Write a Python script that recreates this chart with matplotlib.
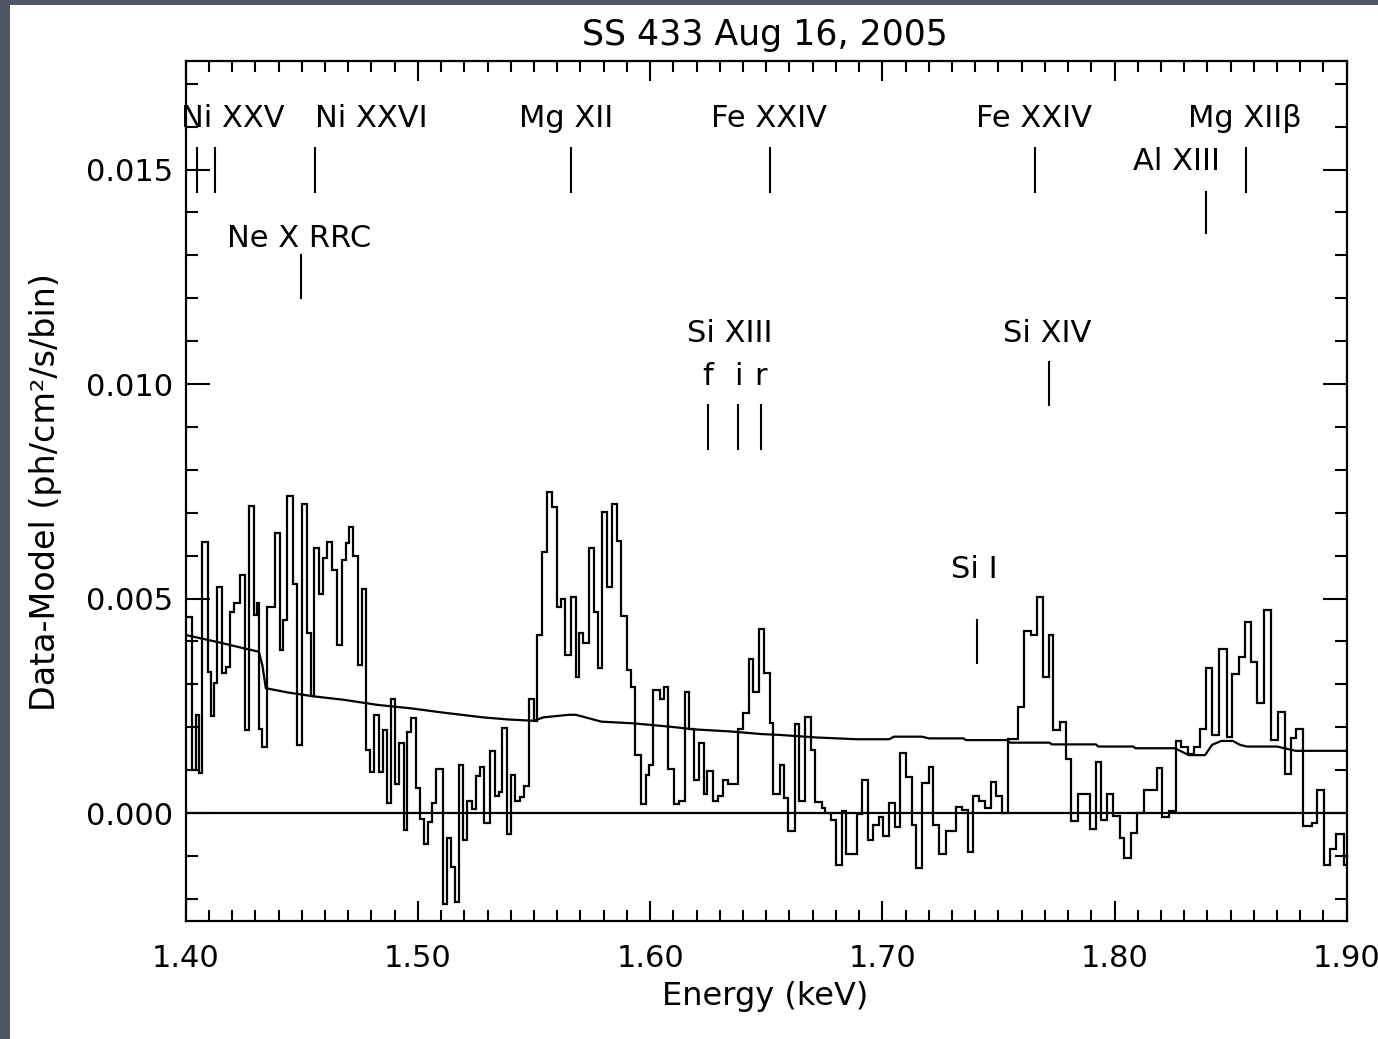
import matplotlib
matplotlib.use("Agg")
import matplotlib.pyplot as plt
import numpy as np
from matplotlib.patches import Rectangle
from matplotlib.ticker import MultipleLocator, FormatStrFormatter

# ---------------- data ----------------
# left bin edges (keV) and residual values (units of 1e-3 ph/cm^2/s/bin)
bin_left = [
    1.4000, 1.4029, 1.4045, 1.4058, 1.4072, 1.4094, 1.4107, 1.4120, 1.4134, 1.4158,
    1.4172, 1.4191, 1.4208, 1.4234, 1.4254, 1.4273, 1.4292, 1.4306, 1.4316, 1.4330,
    1.4352, 1.4385, 1.4405, 1.4421, 1.4438, 1.4460, 1.4481, 1.4500, 1.4521, 1.4538,
    1.4553, 1.4572, 1.4591, 1.4607, 1.4628, 1.4650, 1.4671, 1.4689, 1.4703, 1.4722,
    1.4740, 1.4761, 1.4778, 1.4792, 1.4811, 1.4833, 1.4850, 1.4866, 1.4886, 1.4900,
    1.4920, 1.4938, 1.4955, 1.4972, 1.4991, 1.5009, 1.5026, 1.5045, 1.5061, 1.5080,
    1.5106, 1.5124, 1.5144, 1.5160, 1.5177, 1.5196, 1.5213, 1.5232, 1.5249, 1.5266,
    1.5285, 1.5311, 1.5331, 1.5349, 1.5364, 1.5382, 1.5400, 1.5417, 1.5438, 1.5457,
    1.5479, 1.5500, 1.5515, 1.5533, 1.5558, 1.5579, 1.5597, 1.5615, 1.5632, 1.5658,
    1.5680, 1.5694, 1.5713, 1.5737, 1.5758, 1.5776, 1.5795, 1.5816, 1.5835, 1.5856,
    1.5873, 1.5899, 1.5916, 1.5934, 1.5960, 1.5981, 1.5995, 1.6014, 1.6043, 1.6060,
    1.6077, 1.6103, 1.6125, 1.6149, 1.6168, 1.6187, 1.6211, 1.6230, 1.6247, 1.6273,
    1.6292, 1.6316, 1.6335, 1.6380, 1.6398, 1.6426, 1.6445, 1.6469, 1.6491, 1.6515,
    1.6531, 1.6559, 1.6577, 1.6594, 1.6623, 1.6641, 1.6667, 1.6692, 1.6709, 1.6739,
    1.6752, 1.6778, 1.6799, 1.6825, 1.6845, 1.6893, 1.6914, 1.6940, 1.6962, 1.6986,
    1.7005, 1.7031, 1.7055, 1.7075, 1.7101, 1.7130, 1.7147, 1.7173, 1.7201, 1.7218,
    1.7244, 1.7273, 1.7316, 1.7345, 1.7369, 1.7391, 1.7416, 1.7442, 1.7467, 1.7488,
    1.7514, 1.7543, 1.7584, 1.7610, 1.7639, 1.7665, 1.7690, 1.7718, 1.7737, 1.7764,
    1.7790, 1.7814, 1.7843, 1.7893, 1.7922, 1.7944, 1.7966, 1.7994, 1.8022, 1.8041,
    1.8070, 1.8099, 1.8127, 1.8182, 1.8206, 1.8235, 1.8264, 1.8288, 1.8317, 1.8343,
    1.8367, 1.8393, 1.8422, 1.8448, 1.8486, 1.8508, 1.8536, 1.8562, 1.8590, 1.8615,
    1.8644, 1.8673, 1.8706, 1.8733, 1.8762, 1.8783, 1.8812, 1.8852, 1.8874, 1.8902,
    1.8927, 1.8953, 1.8988,
]
bin_end = 1.9000
residual = [
    4.58, 1.00, 2.28, 0.93, 6.32, 3.29, 2.26, 3.02, 5.28, 3.27,
    3.41, 4.69, 4.89, 5.56, 1.93, 7.16, 4.62, 4.89, 1.97, 1.55,
    4.80, 6.53, 3.80, 4.50, 7.39, 5.35, 1.58, 7.20, 4.19, 2.73,
    6.18, 5.10, 5.94, 6.32, 5.66, 3.92, 5.90, 6.29, 6.66, 5.99,
    3.45, 5.22, 1.47, 0.96, 2.28, 0.96, 1.93, 0.24, 2.66, 0.68,
    1.64, -0.40, 1.88, 2.22, 0.58, -0.14, -0.73, -0.22, 0.24, 1.02,
    -2.13, -0.58, -1.25, -2.08, 1.12, -0.63, 0.29, 0.09, 0.87, 1.08,
    -0.24, 1.45, 0.40, 0.48, 1.99, -0.49, 0.89, 0.29, 0.37, 0.64,
    2.66, 2.15, 4.15, 6.09, 7.48, 7.14, 4.81, 4.98, 3.68, 5.03,
    3.18, 4.20, 3.96, 6.18, 4.69, 3.37, 7.01, 5.26, 7.20, 6.34,
    4.59, 3.33, 2.94, 1.35, 0.20, 0.89, 1.12, 2.87, 2.66, 2.94,
    1.02, 0.20, 0.29, 2.81, 1.97, 0.77, 1.64, 0.44, 0.98, 0.29,
    0.40, 0.77, 0.68, 1.97, 2.32, 3.58, 2.81, 4.30, 3.26, 2.09,
    0.44, 1.12, 0.34, -0.42, 2.08, 0.29, 2.23, 1.48, 0.26, 0.11,
    0.00, -0.16, -1.21, 0.05, -0.96, -0.02, 0.77, -0.63, -0.28, -0.10,
    -0.54, 0.24, -0.33, 1.41, 0.85, -0.28, -1.29, 0.69, 1.08, -0.28,
    -0.96, -0.42, 0.15, 0.08, -0.92, 0.40, 0.29, 0.11, 0.73, 0.40,
    0.00, 1.72, 2.46, 4.25, 4.15, 5.03, 3.18, 4.15, 1.93, 2.13,
    1.25, -0.19, 0.44, -0.38, 1.20, -0.16, 0.44, -0.08, -0.59, -1.06,
    -0.47, 0.00, 0.54, 1.06, -0.10, 0.04, 1.69, 1.55, 1.38, 1.55,
    1.95, 3.37, 1.83, 3.82, 1.78, 3.24, 3.63, 4.45, 3.53, 2.56,
    4.73, 1.70, 2.36, 0.91, 1.74, 1.97, -0.30, -0.24, 0.54, -1.21,
    -0.85, -0.49, -1.21,
]

# smooth model curve (keV, units of 1e-3)
model_energy = [
    1.4000, 1.4150, 1.4250, 1.4315, 1.4330, 1.4345, 1.4440, 1.4550, 1.4680, 1.4827,
    1.4970, 1.5110, 1.5280, 1.5390, 1.5500, 1.5540, 1.5650, 1.5680, 1.5790, 1.5930,
    1.6090, 1.6190, 1.6350, 1.6480, 1.6560, 1.6720, 1.6890, 1.7030, 1.7050, 1.7170,
    1.7200, 1.7350, 1.7360, 1.7540, 1.7550, 1.7720, 1.7730, 1.7920, 1.7930, 1.8080,
    1.8090, 1.8260, 1.8290, 1.8320, 1.8390, 1.8420, 1.8460, 1.8510, 1.8540, 1.8570,
    1.8700, 1.8780, 1.9000,
]
model_value = [
    4.15, 3.97, 3.84, 3.76, 3.45, 2.91, 2.81, 2.72, 2.64, 2.52,
    2.44, 2.34, 2.23, 2.18, 2.15, 2.23, 2.29, 2.29, 2.13, 2.09,
    2.01, 1.95, 1.90, 1.84, 1.82, 1.76, 1.72, 1.72, 1.78, 1.78,
    1.74, 1.74, 1.70, 1.70, 1.64, 1.64, 1.60, 1.60, 1.55, 1.55,
    1.51, 1.51, 1.43, 1.35, 1.35, 1.59, 1.68, 1.68, 1.59, 1.55,
    1.55, 1.45, 1.45,
]

# line identification markers: energy (keV), tick bottom/top (1e-3)
marker_energy = [1.4047, 1.4126, 1.4556, 1.4495, 1.5658, 1.6515, 1.7656, 1.8565,
                 1.8396, 1.6248, 1.6380, 1.6476, 1.7716, 1.7407]
marker_low = [14.48, 14.48, 14.48, 12.01, 14.48, 14.48, 14.48, 14.48,
              13.52, 8.48, 8.48, 8.48, 9.51, 3.50]
marker_high = [15.50, 15.50, 15.50, 13.01, 15.50, 15.50, 15.50, 15.50,
               14.48, 9.51, 9.51, 9.51, 10.51, 4.50]

label_text = ["Ni XXV", "Ni XXVI", "Ne X RRC", "Mg XII", "Fe XXIV", "Fe XXIV",
              "Mg XII\u03b2", "Al XIII", "Si XIII", "f", "i", "r", "Si XIV", "Si I"]
label_energy = [1.4205, 1.4801, 1.4490, 1.5637, 1.6511, 1.7652,
                1.8561, 1.8268, 1.6341, 1.6248, 1.6380, 1.6476, 1.7712, 1.7398]
label_y = [15.99, 15.99, 13.20, 15.99, 15.99, 15.99,
           15.99, 14.99, 10.99, 9.98, 9.98, 9.98, 10.99, 5.49]

x_ticks = [1.40, 1.50, 1.60, 1.70, 1.80, 1.90]
y_ticks = [0.000, 0.005, 0.010, 0.015]

title = "SS 433 Aug 16, 2005"
xlabel = "Energy (keV)"
ylabel = "Data-Model (ph/cm\u00b2/s/bin)"

# ---------------- figure ----------------
plt.rcParams['font.family'] = ['DejaVu Sans']
W, H = 1378, 1039
fig = plt.figure(figsize=(W / 100, H / 100), dpi=100)
fig.patch.set_facecolor('#505665')
bg = Rectangle((10 / W, 0), 1 - 10 / W, 1 - 5 / H, transform=fig.transFigure,
               facecolor='white', edgecolor='none', zorder=-10)
fig.add_artist(bg)

ax = fig.add_axes([185.7 / W, 1 - 920.7 / H, (1346.7 - 185.7) / W, (920.7 - 61) / H])
ax.set_facecolor('white')
ax.set_zorder(1)

scale = 1e-3
edges = np.array(bin_left + [bin_end])
vals = np.array(residual) * scale
ax.stairs(vals, edges, baseline=None, color='black', lw=1.6)
ax.plot(model_energy, np.array(model_value) * scale, color='black', lw=1.6)
ax.axhline(0, color='black', lw=1.6)

for e, lo, hi in zip(marker_energy, marker_low, marker_high):
    ax.plot([e, e], [lo * scale, hi * scale], color='black', lw=1.5)

fs = 22
for t, e, y in zip(label_text, label_energy, label_y):
    ax.text(e, y * scale, t, ha='center', va='baseline', fontsize=fs, color='black')

ax.set_xlim(1.40, 1.90)
ax.set_ylim(-0.00251, 0.01753)
ax.set_xticks(x_ticks)
ax.set_yticks(y_ticks)
ax.xaxis.set_major_formatter(FormatStrFormatter('%.2f'))
ax.yaxis.set_major_formatter(FormatStrFormatter('%.3f'))
ax.xaxis.set_minor_locator(MultipleLocator(0.01))
ax.yaxis.set_minor_locator(MultipleLocator(0.001))
ax.tick_params(which='both', direction='in', top=True, right=True, width=1.5, colors='black')
ax.tick_params(axis='x', which='major', length=14.5, pad=17, labelsize=fs)
ax.tick_params(axis='x', which='minor', length=8)
ax.tick_params(axis='y', which='major', length=17, pad=9, labelsize=fs)
ax.tick_params(axis='y', which='minor', length=8.5)
for s in ax.spines.values():
    s.set_linewidth(1.6)

fig.text(765 / W, 1 - 45 / H, title, ha='center', va='baseline', fontsize=25)
fig.text(765 / W, 1 - 997 / H, xlabel, ha='center', va='center', fontsize=fs + 1)
fig.text(46 / W, 1 - 492 / H, ylabel, ha='center', va='center', rotation=90, fontsize=24)

fig.savefig('out.png', dpi=100, facecolor=fig.get_facecolor())
